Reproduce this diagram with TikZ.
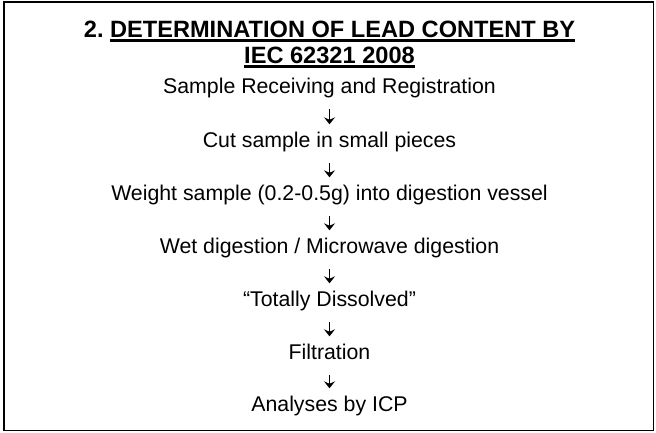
\documentclass[tikz,border=0pt]{standalone}
\usepackage{fontspec}
\setmainfont{Liberation Sans}
\usetikzlibrary{arrows.meta}
\newcommand\myul[1]{\vtop{\hbox{#1}\kern1.6pt\hrule height 2.8pt}}
\begin{document}
\begin{tikzpicture}[x=1pt,y=-1pt,
  titletext/.style={anchor=base,inner sep=0pt,font=\fontsize{23.6}{27}\selectfont\bfseries},
  steptext/.style={anchor=base,inner sep=0pt,text height=15pt,text depth=4.5pt,font=\fontsize{21.3}{25}\selectfont},
  arr/.style={line width=1.3pt,-{Stealth[length=7pt,width=11pt,inset=2.5pt]},shorten <=11.5pt,shorten >=7.5pt}]
\useasboundingbox (0,0) rectangle (656,432);
\draw[line width=1.6pt] (4,2) rectangle (653.5,430.5);
\node[titletext] (t1) at (329.5,37) {2.\ \myul{DETERMINATION OF LEAD CONTENT BY}};
\node[titletext] (t2) at (329.5,63.5) {\myul{IEC 62321 2008}};
\node[steptext] (s1) at (329.5,93) {Sample Receiving and Registration};
\node[steptext] (s2) at (329.5,147) {Cut sample in small pieces};
\node[steptext] (s3) at (329.5,200) {Weight sample (0.2-0.5g) into digestion vessel};
\node[steptext] (s4) at (329.5,253) {Wet digestion / Microwave digestion};
\node[steptext] (s5) at (329.5,306) {“Totally Dissolved”};
\node[steptext] (s6) at (329.5,359) {Filtration};
\node[steptext] (s7) at (329.5,411) {Analyses by ICP};
\foreach \a/\b in {s1/s2,s2/s3,s3/s4,s4/s5,s5/s6,s6/s7}
  \draw[arr] (\a.south) -- (\b.north);
\end{tikzpicture}
\end{document}
